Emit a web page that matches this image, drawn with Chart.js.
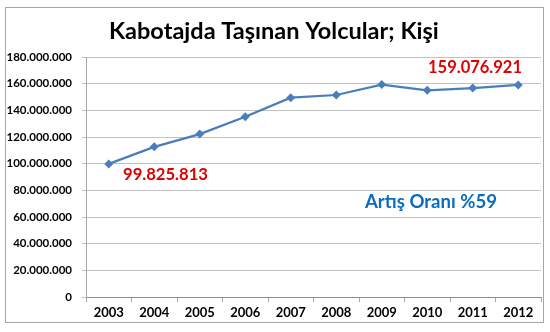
<!DOCTYPE html>
<html>
<head>
<meta charset="utf-8">
<script src="https://cdn.jsdelivr.net/npm/chart.js@4/dist/chart.umd.min.js"></script>
<style>
  html, body { margin: 0; padding: 0; background: #fff; }
  #wrap { width: 550px; height: 332px; }
</style>
</head>
<body>
<div id="wrap"><canvas id="myChart" width="550" height="332"></canvas></div>
<script>
var years = ['2003','2004','2005','2006','2007','2008','2009','2010','2011','2012'];
var passengers = [99825813, 112600000, 122200000, 135200000, 149500000, 151500000, 159300000, 155000000, 156700000, 159076921];
var yMax = 180000000;
var yStep = 20000000;
var titleText = 'Kabotajda Taşınan Yolcular; Kişi';
var firstLabel = '99.825.813';
var lastLabel = '159.076.921';
var rateLabel = 'Artış Oranı %59';

var FONT = 'Lato, "Open Sans", sans-serif';

function fmt(v){
    return String(v).replace(/\B(?=(\d{3})+(?!\d))/g, '.');
}

// draw text scaled to a given width
function fitText(ctx, text, x, y, w, size, color){
    ctx.font = 'bold ' + size + 'px ' + FONT;
    var m = ctx.measureText(text).width;
    var s = size * w / m;
    ctx.font = 'bold ' + s.toFixed(2) + 'px ' + FONT;
    ctx.fillStyle = color;
    ctx.textAlign = 'left';
    ctx.textBaseline = 'middle';
    ctx.fillText(text, x, y);
}

var decor = {
    id: 'decor',
    beforeDraw: function(chart){
        var ctx = chart.ctx;
        ctx.save();
        ctx.fillStyle = '#fff';
        ctx.fillRect(0, 0, chart.width, chart.height);
        ctx.restore();
    },
    afterDraw: function(chart){
        var ctx = chart.ctx;
        ctx.save();
        ctx.strokeStyle = '#a6a6a6';
        ctx.lineWidth = 1;
        ctx.strokeRect(5.5, 7.5, 538, 315);
        fitText(ctx, titleText, 109, 31, 330, 22, '#000');
        fitText(ctx, firstLabel, 123, 175, 85, 17, '#e00000');
        fitText(ctx, lastLabel, 428, 68, 94, 17, '#e00000');
        fitText(ctx, rateLabel, 365, 202, 132, 17, '#0a6cbf');
        ctx.restore();
    }
};

var ctx = document.getElementById('myChart').getContext('2d');
var chart = new Chart(ctx, {
    type: 'line',
    data: {
        labels: years,
        datasets: [{
            label: 'Yolcu',
            data: passengers,
            borderColor: '#4a7ebb',
            backgroundColor: '#4a7ebb',
            borderWidth: 2.25,
            pointStyle: 'rectRot',
            pointRadius: 4.5,
            pointBorderWidth: 0,
            tension: 0
        }]
    },
    options: {
        responsive: false,
        animation: false,
        layout: {
            padding: { left: 0, right: 9, top: 57, bottom: 0 }
        },
        plugins: {
            legend: { display: false },
            title: { display: false },
            tooltip: { enabled: false }
        },
        scales: {
            x: {
                offset: true,
                grid: {
                    offset: true,
                    drawOnChartArea: false,
                    drawTicks: true,
                    tickLength: 5,
                    color: '#a6a6a6'
                },
                border: { color: '#8c8c8c', width: 1 },
                ticks: {
                    color: '#000',
                    padding: 3,
                    maxRotation: 0,
                    font: { family: FONT, size: 13, weight: 'bold' }
                },
                afterFit: function(scale){ scale.height = 35; }
            },
            y: {
                min: 0,
                max: yMax,
                grid: {
                    color: '#c0c0c0',
                    tickLength: 4,
                    lineWidth: 1
                },
                border: { color: '#a6a6a6', width: 1 },
                ticks: {
                    stepSize: yStep,
                    color: '#000',
                    padding: 10,
                    font: { family: FONT, size: 11.5, weight: 'bold' },
                    callback: function(v){ return fmt(v); }
                },
                afterFit: function(scale){ scale.width = 86; }
            }
        }
    },
    plugins: [decor]
});
</script>
</body>
</html>
